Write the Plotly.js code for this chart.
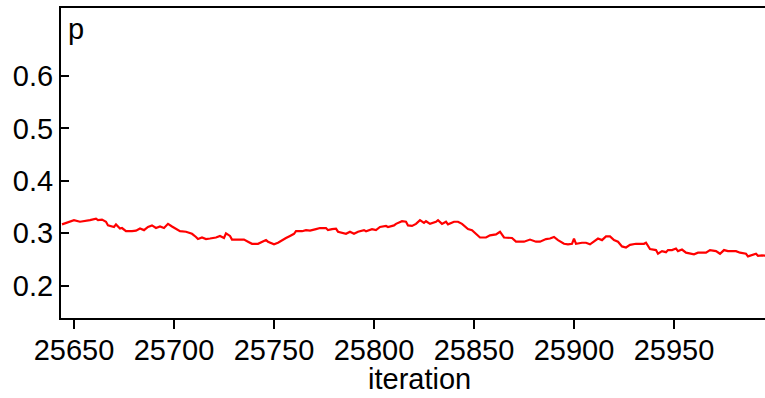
<!DOCTYPE html>
<html>
<head>
<meta charset="utf-8">
<script src="https://cdn.plot.ly/plotly-3.0.1.min.js"></script>
<style>html,body{margin:0;padding:0;background:#fff;overflow:hidden}#chart{width:765px;height:398px}</style>
</head>
<body>
<div id="chart"></div>
<script>
const iteration = [25644,25646,25650,25653,25656,25658,25661,25662,25664,25666,25667,25670,25671,25673,25674,25676,25679,25681,25683,25685,25687,25689,25691,25693,25695,25697,25699,25701,25703,25706,25709,25711,25712,25714,25716,25718,25720,25721,25723,25725,25726,25728,25729,25731,25735,25737,25739,25742,25744,25746,25747,25750,25752,25754,25756,25758,25760,25761,25764,25766,25768,25771,25773,25776,25777,25779,25781,25782,25785,25786,25788,25790,25792,25795,25796,25799,25801,25803,25806,25807,25810,25811,25814,25816,25817,25819,25821,25823,25825,25826,25828,25831,25832,25834,25836,25837,25840,25842,25844,25846,25847,25849,25851,25853,25856,25858,25861,25863,25865,25867,25869,25871,25875,25878,25881,25883,25886,25888,25890,25892,25895,25897,25899,25900,25901,25904,25906,25908,25911,25912,25914,25916,25918,25920,25922,25924,25926,25928,25931,25935,25936,25938,25941,25942,25944,25946,25947,25949,25951,25952,25954,25956,25960,25962,25966,25968,25971,25973,25975,25977,25979,25981,25983,25986,25987,25989,25991,25992,25994,25996];
const p = [0.317,0.320,0.325,0.322,0.323,0.325,0.328,0.325,0.326,0.322,0.315,0.312,0.317,0.309,0.310,0.304,0.304,0.305,0.309,0.306,0.312,0.315,0.310,0.313,0.310,0.318,0.313,0.308,0.304,0.303,0.299,0.293,0.289,0.292,0.289,0.290,0.291,0.292,0.295,0.291,0.300,0.295,0.288,0.288,0.288,0.284,0.280,0.280,0.284,0.287,0.284,0.279,0.282,0.287,0.291,0.295,0.299,0.304,0.304,0.306,0.305,0.308,0.310,0.310,0.306,0.308,0.309,0.303,0.301,0.299,0.303,0.299,0.303,0.306,0.304,0.308,0.306,0.312,0.314,0.312,0.315,0.318,0.323,0.322,0.315,0.314,0.318,0.325,0.320,0.323,0.318,0.322,0.325,0.318,0.322,0.317,0.322,0.322,0.318,0.312,0.308,0.306,0.299,0.292,0.292,0.296,0.298,0.303,0.292,0.291,0.291,0.284,0.284,0.288,0.284,0.284,0.289,0.290,0.293,0.287,0.280,0.279,0.280,0.290,0.280,0.282,0.282,0.279,0.287,0.290,0.287,0.294,0.294,0.287,0.284,0.275,0.273,0.278,0.280,0.280,0.282,0.270,0.268,0.261,0.266,0.264,0.268,0.268,0.271,0.266,0.269,0.263,0.260,0.263,0.263,0.268,0.266,0.261,0.268,0.266,0.266,0.266,0.263,0.261,0.256,0.258,0.261,0.257,0.258,0.257];
const xTicks = [25650,25700,25750,25800,25850,25900,25950];
const yTicks = [0.2,0.3,0.4,0.5,0.6];
const panelLabel = 'p';
const xLabel = 'iteration';

const font = {family: 'Liberation Sans, Arial, sans-serif', size: 29, color: '#000'};

Plotly.newPlot('chart', [{
  x: iteration, y: p, type: 'scatter', mode: 'lines',
  line: {color: '#ff0000', width: 2.2}, hoverinfo: 'skip'
}], {
  width: 765, height: 398,
  margin: {l: 61, r: 0, t: 8, b: 80, pad: 0},
  paper_bgcolor: '#fff', plot_bgcolor: '#fff',
  showlegend: false,
  font: font,
  xaxis: {
    range: [25643.5, 25995.5], tickvals: xTicks, ticktext: xTicks.map(String),
    showgrid: false, zeroline: false, showline: true, linecolor: '#000', linewidth: 2,
    mirror: true, ticks: 'outside', ticklen: 9, tickwidth: 2, tickcolor: '#000',
    tickfont: font, ticklabelstandoff: -4
  },
  yaxis: {
    range: [0.1385, 0.7295], tickvals: yTicks, ticktext: yTicks.map(v => v.toFixed(1)),
    showgrid: false, zeroline: false, showline: true, linecolor: '#000', linewidth: 2,
    ticks: 'inside', ticklen: 8, tickwidth: 2, tickcolor: '#000',
    tickfont: font
  },
  annotations: [{
    text: panelLabel, xref: 'paper', yref: 'paper', x: 0, y: 1,
    xanchor: 'left', yanchor: 'top', xshift: 5, yshift: -3, showarrow: false, font: font
  }, {
    text: xLabel, xref: 'paper', yref: 'paper', x: 0.5, y: 0,
    xanchor: 'center', yanchor: 'middle', xshift: 6, yshift: -61, showarrow: false, font: font
  }]
}, {staticPlot: true, displayModeBar: false});
</script>
</body>
</html>
